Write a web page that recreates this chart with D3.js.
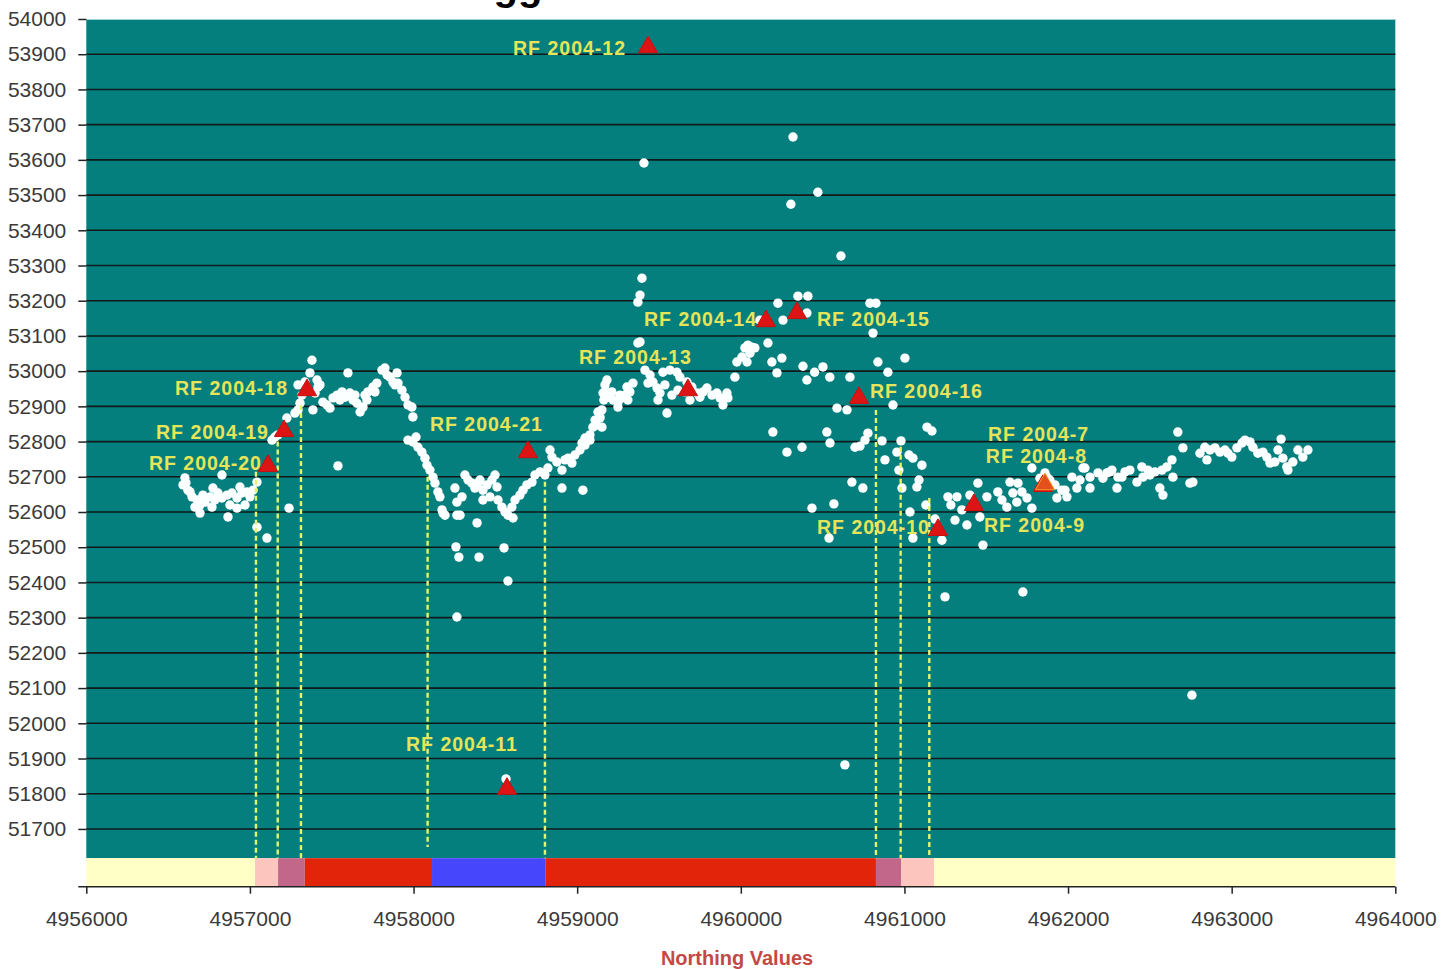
<!DOCTYPE html>
<html>
<head>
<meta charset="utf-8">
<script src="https://cdn.jsdelivr.net/npm/d3@7/dist/d3.min.js"></script>
<style>
  body { margin: 0; background: #fff; }
  text { font-family: 'Liberation Sans', Arial, sans-serif; }
</style>
</head>
<body>
<svg id="chart" width="1441" height="969"></svg>
<script>
// axis ticks
const xTickValues = [4956000, 4957000, 4958000, 4959000, 4960000, 4961000, 4962000, 4963000, 4964000];
const yTickValues = [51700, 51800, 51900, 52000, 52100, 52200, 52300, 52400, 52500, 52600, 52700,
  52800, 52900, 53000, 53100, 53200, 53300, 53400, 53500, 53600, 53700, 53800, 53900, 54000];
const gridValues = yTickValues.slice(0, -1);

// coloured strip under the plot: northing breaks and the colour of each stretch
const bandBreaks = [4956000, 4957031, 4957172, 4957335, 4958113, 4958808, 4960826, 4960981, 4961181, 4964000];
const bandColors = ['#ffffc6', '#fcc6be', '#c2668a', '#e1240a', '#4646fc', '#e1240a', '#c2668a', '#fcc6be', '#ffffc6'];

// yellow drop lines
const dropNorthing = [4957037, 4957170, 4957312, 4958086, 4958803, 4960826, 4960977, 4961152];
const dropTop = [52714, 52800, 52904, 52700, 52686, 52890, 52785, 52640];
const dropBottom = [51617, 51617, 51617, 51649, 51617, 51617, 51617, 51617];

// RF sample markers
const rfNames = ['RF 2004-12', 'RF 2004-14', 'RF 2004-15', 'RF 2004-13', 'RF 2004-16', 'RF 2004-18',
  'RF 2004-19', 'RF 2004-20', 'RF 2004-21', 'RF 2004-11', 'RF 2004-10', 'RF 2004-9', 'RF 2004-8', 'RF 2004-7'];
const rfNorthing = [4959433, 4960154, 4960343, 4959677, 4960722, 4957349, 4957208, 4957110, 4958699,
  4958571, 4961205, 4961425, 4961846, 4961859];
const rfValue = [53920, 53142, 53165, 52946, 52924, 52946, 52830, 52731, 52770, 51814, 52549, 52620, 52674, 52679];

// readings [northing, value]
const readings = [
  [4956603,52697],[4956591,52677],[4956621,52662],[4956646,52643],[4956677,52634],[4956664,52614],[4956695,52597],
  [4956725,52628],[4956756,52643],[4956774,52668],[4956805,52654],[4956829,52640],[4956860,52648],[4956890,52654],
  [4956921,52640],[4956951,52654],[4956982,52657],[4957000,52643],[4957019,52662],[4957043,52685],[4956829,52705],
  [4956866,52586],[4956768,52614],[4956921,52611],[4956634,52657],[4956695,52620],[4956786,52634],[4956878,52620],
  [4956970,52620],[4956939,52671],[4956713,52648],[4956609,52683],
  [4957043,52557],[4957104,52526],[4957239,52611],[4957538,52731],
  [4957135,52804],[4957153,52813],[4957171,52819],[4957226,52867],[4957275,52881],[4957294,52890],[4957306,52909],
  [4957294,52961],[4957349,52952],[4957367,52995],[4957379,53031],[4957410,52975],[4957416,52955],[4957398,52938],
  [4957385,52890],[4957318,52932],[4957336,52969],
  [4957446,52912],[4957471,52904],[4957489,52895],[4957508,52924],[4957532,52932],[4957563,52941],[4957581,52926],
  [4957611,52938],[4957630,52918],[4957654,52909],[4957673,52884],[4957691,52898],[4957715,52918],[4957721,52941],
  [4957752,52955],[4957776,52966],[4957807,53003],[4957825,53009],[4957856,52983],[4957874,52969],[4957899,52995],
  [4957905,52966],[4957929,52946],[4957948,52926],[4957966,52904],[4957996,52870],[4957599,52995],[4957428,52961],
  [4957550,52918],[4957642,52932],[4957703,52932],[4957764,52941],[4957838,52989],[4957887,52961],
  [4957966,52804],[4957996,52799],[4958027,52784],[4958051,52770],[4958082,52733],[4958100,52719],[4958119,52699],
  [4958131,52682],[4958149,52657],[4958161,52643],[4958174,52606],[4958192,52591],[4957990,52898],[4958015,52813],
  [4958070,52753],
  [4958253,52668],[4958296,52643],[4958265,52628],[4958314,52705],[4958333,52691],[4958357,52682],[4958375,52668],
  [4958394,52682],[4958406,52691],[4958424,52662],[4958449,52677],[4958479,52691],[4958498,52705],[4958510,52671],
  [4958467,52643],[4958424,52634],[4958516,52634],[4958540,52614],[4958559,52600],[4958577,52591],[4958608,52583],
  [4958601,52614],[4958620,52634],[4958650,52648],[4958669,52662],[4958693,52677],[4958724,52685],[4958742,52705],
  [4958773,52714],[4958803,52705],[4958821,52725],[4958846,52756],[4958834,52776],[4958876,52742],[4958907,52668],
  [4958925,52748],[4958968,52739],[4959017,52776],[4959029,52796],[4959048,52810],[4959078,52819],[4959096,52841],
  [4959035,52662],[4958388,52569],[4958180,52597],[4958265,52591],[4958284,52591],
  [4958259,52501],[4958277,52472],[4958400,52472],[4958553,52498],[4958577,52404],[4958265,52302],[4958565,51842],
  [4958907,52719],[4958944,52753],[4958986,52762],[4959048,52790],[4959078,52804],[4959121,52847],[4959139,52870],
  [4959151,52890],[4959163,52918],[4959127,52884],[4959109,52861],[4959182,52941],
  [4959158,52938],[4959188,52926],[4959219,52918],[4959249,52912],[4959274,52924],[4959292,52932],[4959322,52941],
  [4959341,52966],[4959249,52898],[4959182,52975],[4959304,52955],[4959170,52961],[4959212,52941],[4959261,52932],
  [4959310,52918],
  [4959445,52989],[4959463,52969],[4959488,52952],[4959506,52938],[4959494,52918],[4959524,52997],[4959567,53003],
  [4959610,52997],[4959628,52983],[4959616,52946],[4959671,52969],[4959701,52955],[4959732,52938],[4959750,52926],
  [4959769,52941],[4959793,52952],[4959824,52932],[4959854,52938],[4959873,52924],[4959915,52938],[4959921,52924],
  [4959891,52904],[4959549,52881],[4959384,53083],[4959371,53080],[4959139,52867],[4959151,52841],[4959396,53264],
  [4959384,53216],[4959371,53196],[4959408,53591],[4959414,53003],[4959433,52966],[4959536,52961],[4959579,52932],
  [4959659,52941],[4959689,52918],
  [4959976,53026],[4960007,53040],[4960025,53066],[4960043,53074],[4960068,53068],[4960086,53066],[4960056,53051],
  [4960038,53026],[4960166,53080],[4960190,53026],[4960251,53037],[4960221,52995],[4959964,52983],[4960227,53193],
  [4960349,53213],[4960410,53213],[4960404,53165],[4960258,53145],[4960319,53665],[4960471,53508],[4960306,53474],
  [4960612,53327],[4960117,53145],[4960451,52997],[4960502,53012],[4960404,52975],[4960544,52983],[4960667,52983],
  [4960588,52895],[4960649,52890],[4960789,53193],[4960826,53193],[4960808,53108],[4960838,53026],[4961003,53037],
  [4960899,52997],[4960930,52904],[4960196,52827],[4960374,52784],[4960282,52770],[4960526,52827],[4960545,52796],
  [4960698,52784],[4960728,52787],[4960759,52804],[4960777,52824],[4960863,52802],[4960979,52802],[4961138,52841],
  [4961168,52830],[4960954,52770],[4961028,52762],[4961052,52753],[4960881,52748],[4961107,52733],[4960966,52719],
  [4960985,52668],[4961089,52691],[4961076,52671],[4960679,52685],[4960746,52668],[4960435,52611],[4960569,52623],
  [4961034,52600],[4961131,52620],[4960539,52526],[4961052,52526],[4961229,52520],[4961187,52580],[4961266,52643],
  [4961321,52643],[4961284,52620],[4961351,52606],[4961309,52577],[4961382,52563],[4961400,52648],[4961449,52682],
  [4961504,52643],[4961461,52586],[4961480,52506],[4961571,52657],[4961596,52634],[4961626,52614],[4961645,52685],
  [4961694,52682],[4961663,52654],[4961718,52657],[4961687,52628],[4961749,52640],[4961779,52611],[4961779,52725],
  [4961828,52696],[4961859,52711],[4961889,52691],[4961920,52677],[4961932,52640],[4961981,52662],[4962024,52699],
  [4962073,52691],[4962091,52725],[4962134,52699],[4962134,52668],[4962183,52711],[4962213,52696],[4962256,52714],
  [4962299,52668],[4962329,52699],[4962378,52719],[4962421,52685],[4962458,52699],[4962488,52719],[4961962,52662],
  [4961993,52643],[4962054,52668],[4962103,52725],[4962238,52711],[4962268,52719],[4962305,52699],[4962348,52714],
  [4962451,52728],[4962500,52705],[4962531,52714],[4962574,52719],[4962561,52668],[4962580,52648],[4962604,52728],
  [4962635,52748],[4962641,52699],[4962671,52827],[4962702,52782],[4962745,52682],[4962763,52685],[4962806,52767],
  [4962836,52784],[4962849,52748],[4962867,52776],[4962898,52782],[4962928,52770],[4962959,52776],[4962977,52767],
  [4963001,52756],[4963032,52782],[4963063,52796],[4963081,52804],[4963112,52799],[4963130,52784],[4963160,52767],
  [4963191,52770],[4963215,52756],[4963234,52739],[4963264,52742],[4963283,52776],[4963302,52807],[4963313,52753],
  [4963337,52728],[4963344,52719],[4963374,52742],[4963405,52776],[4963435,52756],[4963466,52776],[4961871,52699],
  [4960380,53014],
  [4962757,52080],[4961724,52373],[4961248,52359],[4960636,51882]
];

// label placement beside each marker: [anchor, dx, dy] in px
const labelPlace = {
  'RF 2004-12': ['end', -22, 1], 'RF 2004-14': ['end', -9, -2], 'RF 2004-15': ['start', 20, 6],
  'RF 2004-13': ['start', -109, -33], 'RF 2004-16': ['start', 11, -7], 'RF 2004-18': ['end', -19, -2],
  'RF 2004-19': ['end', -15, 1], 'RF 2004-20': ['end', -6, -3], 'RF 2004-21': ['start', -98, -28],
  'RF 2004-11': ['start', -101, -45], 'RF 2004-10': ['end', -8, -3], 'RF 2004-9': ['start', 10, 20],
  'RF 2004-8': ['start', -57, -30], 'RF 2004-7': ['start', -57, -50]
};

const margin = { top: 19, right: 45.7, bottom: 82.3, left: 86.3 };
const svg = d3.select('#chart');
const width = 1441 - margin.left - margin.right;
const height = 969 - margin.top - margin.bottom;
const bandTop = 51617;

const x = d3.scaleLinear().domain([4956000, 4964000]).range([0, width]);
const y = d3.scaleLinear().domain([51536, 54000]).range([height, 0]);

// title sits above the window, only its descenders show
svg.append('text')
  .attr('x', 518).attr('y', 0)
  .attr('text-anchor', 'middle')
  .style('font-size', '40px').style('font-weight', 'bold')
  .text('gg');

const g = svg.append('g').attr('transform', `translate(${margin.left},${margin.top})`);

g.append('rect')
  .attr('x', 0).attr('y', y(54000))
  .attr('width', width).attr('height', y(bandTop) - y(54000))
  .attr('fill', '#047f7e');

g.append('line')
  .attr('x1', 0).attr('x2', width)
  .attr('y1', 0.5).attr('y2', 0.5)
  .attr('stroke', '#9fd3d0').attr('stroke-width', 1);

g.selectAll('.grid')
  .data(gridValues)
  .enter()
  .append('line')
  .attr('class', 'grid')
  .attr('x1', 0).attr('x2', width)
  .attr('y1', (d) => y(d)).attr('y2', (d) => y(d))
  .attr('stroke', '#101a1a').attr('stroke-width', 1.6);

g.selectAll('.band')
  .data(bandColors)
  .enter()
  .append('rect')
  .attr('class', 'band')
  .attr('x', (d, i) => x(bandBreaks[i]))
  .attr('width', (d, i) => x(bandBreaks[i + 1]) - x(bandBreaks[i]))
  .attr('y', y(bandTop))
  .attr('height', y(51536) - y(bandTop))
  .attr('fill', (d) => d);

g.selectAll('.dot')
  .data(readings)
  .enter()
  .append('circle')
  .attr('class', 'dot')
  .attr('cx', (d) => x(d[0]))
  .attr('cy', (d) => y(d[1]))
  .attr('r', 4.7)
  .attr('fill', '#fbffff');

g.selectAll('.drop')
  .data(dropNorthing)
  .enter()
  .append('line')
  .attr('class', 'drop')
  .attr('x1', (d) => x(d)).attr('x2', (d) => x(d))
  .attr('y1', (d, i) => y(dropTop[i])).attr('y2', (d, i) => y(dropBottom[i]))
  .attr('stroke', '#e4f46c').attr('stroke-width', 2.4)
  .attr('stroke-dasharray', '5,3');

const tri = d3.symbol().type(d3.symbolTriangle).size(160);
g.selectAll('.rf')
  .data(rfNames)
  .enter()
  .append('path')
  .attr('class', 'rf')
  .attr('d', tri)
  .attr('transform', (d, i) => `translate(${x(rfNorthing[i])},${y(rfValue[i])})`)
  .attr('fill', (d) => d === 'RF 2004-7' ? '#e4501c' : '#dc1414')
  .attr('stroke', (d) => d === 'RF 2004-7' ? '#f5a030' : '#c81010')
  .attr('stroke-width', 1);

g.selectAll('.rf-label')
  .data(rfNames)
  .enter()
  .append('text')
  .attr('class', 'rf-label')
  .attr('x', (d, i) => x(rfNorthing[i]) + labelPlace[d][1])
  .attr('y', (d, i) => y(rfValue[i]) + labelPlace[d][2] + 7)
  .attr('text-anchor', (d) => labelPlace[d][0])
  .style('font-size', '19.5px').style('font-weight', 'bold')
  .style('letter-spacing', '1px')
  .attr('fill', '#e6e458')
  .text((d) => d);

const yAxis = g.append('g')
  .call(d3.axisLeft(y).tickValues(yTickValues).tickSize(8).tickPadding(12).tickFormat(d3.format('d')));
yAxis.select('.domain').remove();

const xAxis = g.append('g')
  .attr('transform', `translate(0,${height})`)
  .call(d3.axisBottom(x).tickValues(xTickValues).tickSize(7).tickSizeOuter(0).tickPadding(17).tickFormat(d3.format('d')));
xAxis.select('.domain').remove();
xAxis.append('line')
  .attr('x1', -8).attr('x2', width)
  .attr('stroke', '#222').attr('stroke-width', 1.5);

g.selectAll('.tick line').attr('stroke', '#222').attr('stroke-width', 1.5);
g.selectAll('.tick text')
  .style('font-size', '21px')
  .attr('fill', '#3a3a3a');

svg.append('text')
  .attr('x', 737).attr('y', 965)
  .attr('text-anchor', 'middle')
  .style('font-size', '20px').style('font-weight', 'bold')
  .attr('fill', '#c24a44')
  .text('Northing Values');
</script>
</body>
</html>
